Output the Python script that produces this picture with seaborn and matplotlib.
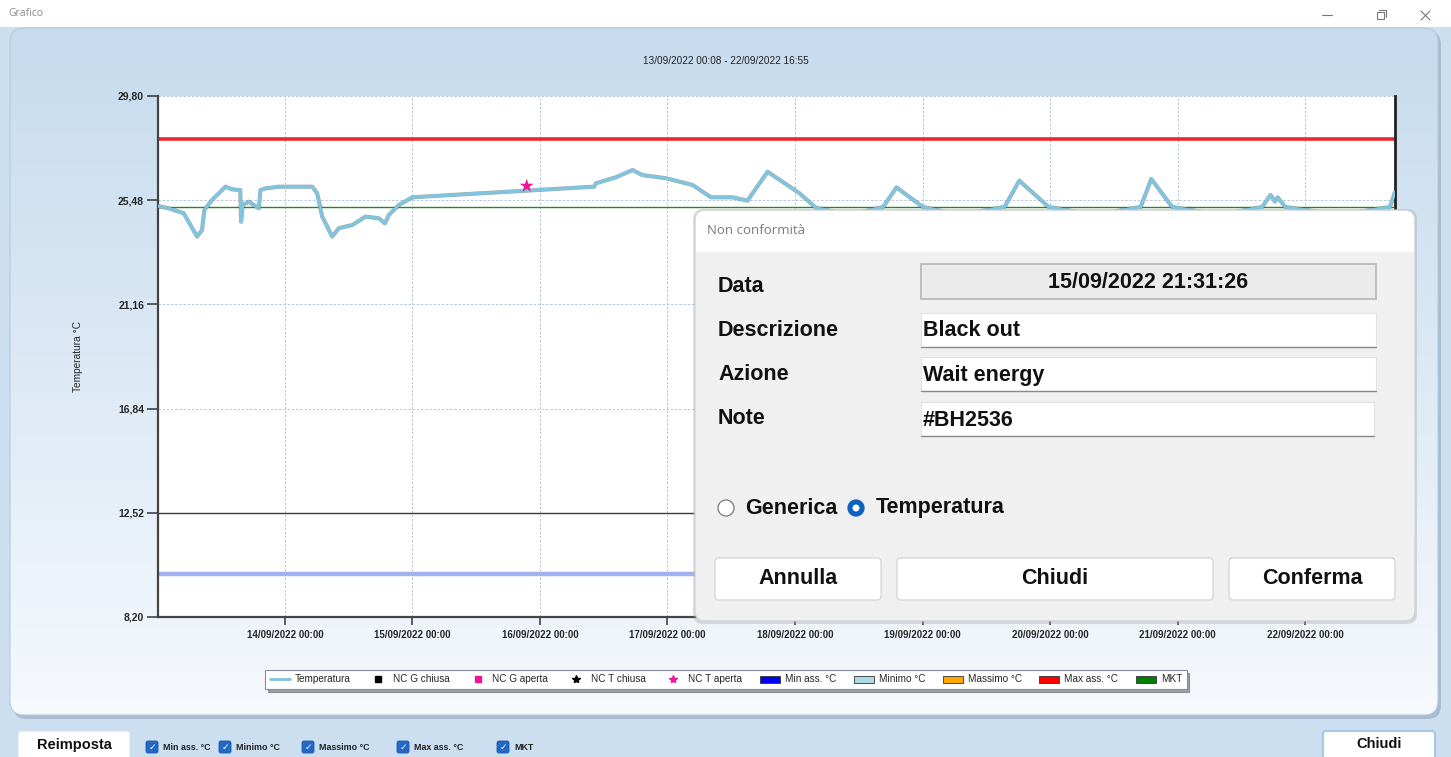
import pandas as pd
import matplotlib
matplotlib.use("Agg")
import matplotlib.pyplot as plt
from matplotlib.patches import Rectangle, FancyBboxPatch, Circle, Patch
from matplotlib.lines import Line2D
from matplotlib.colors import LinearSegmentedColormap
import numpy as np
import seaborn as sns

# -----------------------------
# Data
# -----------------------------
times = [
    "13/09/2022 00:08", "13/09/2022 02:09", "13/09/2022 04:58", "13/09/2022 07:29", "13/09/2022 08:25",
    "13/09/2022 08:52", "13/09/2022 10:18", "13/09/2022 12:50", "13/09/2022 14:04", "13/09/2022 15:37",
    "13/09/2022 15:46", "13/09/2022 16:05", "13/09/2022 17:13", "13/09/2022 19:06", "13/09/2022 19:25",
    "13/09/2022 20:22", "13/09/2022 22:52",
    "14/09/2022 05:09", "14/09/2022 06:05", "14/09/2022 07:02", "14/09/2022 08:55", "14/09/2022 10:10",
    "14/09/2022 12:41", "14/09/2022 15:12", "14/09/2022 17:42", "14/09/2022 18:50", "14/09/2022 19:35",
    "14/09/2022 21:28", "14/09/2022 23:59",
    "16/09/2022 10:13", "16/09/2022 10:32", "16/09/2022 14:18", "16/09/2022 17:26", "16/09/2022 19:18",
    "16/09/2022 23:43",
    "17/09/2022 04:44", "17/09/2022 08:12", "17/09/2022 12:16", "17/09/2022 15:05", "17/09/2022 16:02",
    "17/09/2022 18:51",
    "18/09/2022 00:50", "18/09/2022 03:58", "18/09/2022 10:15", "18/09/2022 16:36", "18/09/2022 19:06",
    "19/09/2022 00:04", "19/09/2022 06:58", "19/09/2022 15:27", "19/09/2022 18:13", "19/09/2022 23:44",
    "20/09/2022 08:24", "20/09/2022 17:04", "20/09/2022 19:03", "20/09/2022 22:59",
    "21/09/2022 07:57", "21/09/2022 15:55", "21/09/2022 17:30", "21/09/2022 18:19", "21/09/2022 18:50",
    "21/09/2022 20:16",
    "22/09/2022 06:34", "22/09/2022 15:58", "22/09/2022 16:55",
]
temps = [
    25.24, 25.14, 24.94, 23.97, 24.24, 25.07, 25.49, 26.04, 25.93, 25.90, 24.59, 25.28, 25.42, 25.14,
    25.90, 25.97, 26.04,
    26.04, 25.77, 24.80, 23.97, 24.32, 24.45, 24.80, 24.73, 24.52, 24.87, 25.28, 25.60,
    26.04, 26.18, 26.43, 26.73, 26.52, 26.39,
    26.11, 25.60, 25.60, 25.46, 25.77, 26.66,
    25.77, 25.16, 24.87, 25.20, 26.01,
    25.20, 24.87, 25.20, 26.29, 25.20,
    24.87, 25.20, 26.36, 25.20,
    24.87, 25.20, 25.70, 25.42, 25.60, 25.20,
    24.87, 25.20, 25.82,
]

# non conformity (NC T aperta)
nc_times = ["15/09/2022 21:31:26"]
nc_temps = [26.07]

# horizontal limit lines
limit_names = ["Max ass. °C", "MKT", "Riferimento", "Min ass. °C"]
limit_values = [28.00, 25.20, 12.52, 10.00]

y_ticks = [8.20, 12.52, 16.84, 21.16, 25.48, 29.80]
period = ["13/09/2022 00:08", "22/09/2022 16:55"]

legend_labels = ["Temperatura", "NC G chiusa", "NC G aperta", "NC T chiusa", "NC T aperta",
                 "Min ass. °C", "Minimo °C", "Massimo °C", "Max ass. °C", "MKT"]
check_labels = ["Min ass. °C", "Minimo °C", "Massimo °C", "Max ass. °C", "MKT"]

dialog_fields = ["Data", "Descrizione", "Azione", "Note"]
dialog_values = ["15/09/2022 21:31:26", "Black out", "Wait energy", "#BH2536"]

df = pd.DataFrame({"time": pd.to_datetime(times, format="%d/%m/%Y %H:%M"), "temp": temps})
nc = pd.DataFrame({"time": pd.to_datetime(nc_times, format="%d/%m/%Y %H:%M:%S"), "temp": nc_temps})
start, end = pd.to_datetime(period, format="%d/%m/%Y %H:%M")

# -----------------------------
# Style
# -----------------------------
sns.set_theme(style="white")
plt.rcParams["font.family"] = ["Liberation Sans", "DejaVu Sans"]

W, H = 1451, 757
fig = plt.figure(figsize=(W / 100, H / 100), dpi=100)

# background layer in pixel coordinates
bg = fig.add_axes([0, 0, 1, 1], zorder=0)
bg.set_xlim(0, W)
bg.set_ylim(H, 0)
bg.axis("off")

bg.add_patch(Rectangle((0, 0), W, H, fc="#cbdff0", ec="none"))
bg.add_patch(Rectangle((0, 0), W, 27, fc="white", ec="none"))
bg.text(8, 14, "Grafico", fontsize=7.5, color="#8a8a8a", va="center", family=["Open Sans", "DejaVu Sans"])
bg.plot([1322, 1332], [15, 15], color="#777", lw=0.8)
bg.add_patch(Rectangle((1377, 12), 7, 7, fc="none", ec="#777", lw=0.8))
bg.plot([1379, 1386, 1386], [10, 10, 17], color="#777", lw=0.8)
bg.plot([1421, 1430], [11, 20], color="#777", lw=0.8)
bg.plot([1421, 1430], [20, 11], color="#777", lw=0.8)

# rounded panel with gradient + shadow
bg.add_patch(FancyBboxPatch((13, 31), 1428, 688, boxstyle="round,pad=0,rounding_size=14",
                            fc="#8fa6bd", ec="none", alpha=0.6))
panel = FancyBboxPatch((10, 28), 1428, 687, boxstyle="round,pad=0,rounding_size=14",
                       fc="none", ec="#b7cadc", lw=0.8, zorder=3)
bg.add_patch(panel)
grad = np.linspace(0, 1, 256).reshape(-1, 1)
cmap = LinearSegmentedColormap.from_list("pan", ["#c6dbee", "#dde9f5", "#f6f9fd"])
im = bg.imshow(grad, extent=[10, 1438, 715, 28], aspect="auto", cmap=cmap, zorder=2)
im.set_clip_path(panel)
bg.set_xlim(0, W)
bg.set_ylim(H, 0)

# title
bg.text(W / 2, 61, f"{period[0]} - {period[1]}", fontsize=7.2, ha="center", va="center", color="#222")

# bottom bar
bg.add_patch(FancyBboxPatch((18, 731), 112, 30, boxstyle="round,pad=0,rounding_size=3",
                            fc="white", ec="#d8e2ec", lw=0.8))
bg.text(74, 745, "Reimposta", fontsize=10.5, fontweight="bold", ha="center", va="center", color="#111")
cx = [146, 219, 302, 397, 497]
for x, lab in zip(cx, check_labels):
    bg.add_patch(FancyBboxPatch((x, 741), 12, 12, boxstyle="round,pad=0,rounding_size=2",
                                fc="#2368c4", ec="#1b58aa", lw=0.6))
    bg.text(x + 6, 747.5, "✓", fontsize=6.5, color="white", ha="center", va="center", family="DejaVu Sans")
    bg.text(x + 17, 747.5, lab, fontsize=6.4, fontweight="bold", va="center", color="#222")
bg.add_patch(FancyBboxPatch((1323, 731), 112, 28, boxstyle="round,pad=0,rounding_size=3",
                            fc="white", ec="#8fb6dd", lw=1.0))
bg.text(1379, 744, "Chiudi", fontsize=10.5, fontweight="bold", ha="center", va="center", color="#111")

# -----------------------------
# Chart
# -----------------------------
ax = fig.add_axes([158 / W, 1 - 617 / H, 1237 / W, 521 / H], zorder=2)
ax.set_facecolor("white")

line_colors = {"Max ass. °C": "#e82a2f", "MKT": "#1f8a2a", "Riferimento": "#3a3a3a", "Min ass. °C": "#a2b2ee"}
line_widths = {"Max ass. °C": 2.6, "MKT": 1.0, "Riferimento": 1.0, "Min ass. °C": 3.2}
for name, val in zip(limit_names, limit_values):
    ax.axhline(val, color=line_colors[name], lw=line_widths[name], zorder=2)

sns.lineplot(data=df, x="time", y="temp", ax=ax, color="#3b4a55", lw=3.0, alpha=0.45, zorder=3)
sns.lineplot(data=df, x="time", y="temp", ax=ax, color="#80c5df", lw=2.3, zorder=4)
sns.scatterplot(data=nc, x="time", y="temp", ax=ax, marker="*", s=110, color="#f0149a",
                edgecolor="none", zorder=5)

ax.set_xlim(start, end)
ax.set_ylim(y_ticks[0], y_ticks[-1])
ax.set_yticks(y_ticks, labels=[f"{v:.2f}".replace(".", ",") for v in y_ticks],
              fontsize=7.5, fontweight="bold")
days = pd.date_range("2022-09-14", "2022-09-22", freq="D")
ax.set_xticks(days, labels=[d.strftime("%d/%m/%Y %H:%M") for d in days], fontsize=7, fontweight="bold")
ax.tick_params(axis="y", length=8, width=1.1, color="#333", pad=2, left=True)
ax.tick_params(axis="x", length=6, width=1.1, color="#333", pad=3, bottom=True)
ax.grid(True, color="#a9c0d8", lw=0.6, ls=(0, (3, 2)))
ax.set_xlabel("")
ax.set_ylabel("Temperatura °C", fontsize=7.3)
ax.yaxis.set_label_coords((83 - 158) / 1237, 0.5)
for s in ["left", "bottom"]:
    ax.spines[s].set_color("#444")
    ax.spines[s].set_linewidth(1.6)
ax.spines["right"].set_color("#222")
ax.spines["right"].set_linewidth(2)
ax.spines["top"].set_visible(False)

# legend
handles = [
    Line2D([], [], color="#7fc4de", lw=2),
    Line2D([], [], ls="none", marker="s", color="black", ms=5),
    Line2D([], [], ls="none", marker="s", color="#f0149a", ms=5),
    Line2D([], [], ls="none", marker="*", color="black", ms=6),
    Line2D([], [], ls="none", marker="*", color="#f0149a", ms=6),
    Patch(fc="#0000ff", ec="#333", lw=0.6),
    Patch(fc="#add8e6", ec="#333", lw=0.6),
    Patch(fc="#ffa500", ec="#333", lw=0.6),
    Patch(fc="#ff0000", ec="#333", lw=0.6),
    Patch(fc="#008000", ec="#333", lw=0.6),
]
leg = fig.legend(handles, legend_labels, loc="center", bbox_to_anchor=(726 / W, 1 - 679.5 / H),
                 ncol=10, fontsize=7.2, frameon=True, fancybox=False, shadow=True,
                 handlelength=2.0, handleheight=0.7, handletextpad=0.5, columnspacing=1.75,
                 borderpad=0.45)
leg.get_frame().set_edgecolor("#8a8a9a")
leg.get_frame().set_linewidth(0.8)

# -----------------------------
# Dialog "Non conformità" on top
# -----------------------------
dl = fig.add_axes([0, 0, 1, 1], zorder=10)
dl.set_xlim(0, W)
dl.set_ylim(H, 0)
dl.axis("off")
dl.patch.set_alpha(0)

dl.add_patch(FancyBboxPatch((693, 209), 724, 415, boxstyle="round,pad=0,rounding_size=10",
                            fc="#9aa4ae", ec="none", alpha=0.35))
dl.add_patch(FancyBboxPatch((695, 210), 720, 411, boxstyle="round,pad=0,rounding_size=10",
                            fc="#f0f0f0", ec="#cfcfcf", lw=0.8))
dl.add_patch(FancyBboxPatch((696, 211), 718, 41, boxstyle="round,pad=0,rounding_size=9",
                            fc="white", ec="none"))
dl.add_patch(Rectangle((696, 240), 718, 12, fc="white", ec="none"))
dl.text(707, 231, "Non conformità", fontsize=9.5, color="#7a7a7a", va="center",
        family=["Open Sans", "DejaVu Sans"])

rows_y = [287, 330, 374, 419]
boxes = [(921, 264, 455, 35), (921, 313, 455, 34), (921, 357, 455, 34), (921, 402, 453, 34)]
for i, (lab, val) in enumerate(zip(dialog_fields, dialog_values)):
    dl.text(718, rows_y[i], lab, fontsize=15.5, fontweight="bold", va="center", color="#111")
    x0, y0, w, h = boxes[i]
    if i == 0:
        dl.add_patch(Rectangle((x0, y0), w, h, fc="#ebebeb", ec="#b5b5b5", lw=1.2))
        dl.text(x0 + w / 2, y0 + h / 2 + 1, val, fontsize=15.5, fontweight="bold",
                ha="center", va="center", color="#111")
    else:
        dl.add_patch(Rectangle((x0, y0), w, h, fc="white", ec="#e2e2e2", lw=0.8))
        dl.plot([x0, x0 + w], [y0 + h, y0 + h], color="#8a8a8a", lw=1.0)
        dl.text(x0 + 2, y0 + h / 2 + 1, val, fontsize=15.5, fontweight="bold", va="center", color="#111")

# radio buttons
dl.add_patch(Circle((726, 508), 8, fc="white", ec="#7a7a7a", lw=0.9))
dl.text(745, 508, "Generica", fontsize=15.5, fontweight="bold", va="center", color="#111")
dl.add_patch(Circle((856, 508), 8, fc="#0a62c0", ec="#0a62c0", lw=0.9))
dl.add_patch(Circle((856, 508), 3.5, fc="white", ec="none"))
dl.text(876, 508, "Temperatura", fontsize=15.5, fontweight="bold", va="center", color="#111")

# buttons
for x0, x1, lab in [(715, 881, "Annulla"), (897, 1213, "Chiudi"), (1229, 1395, "Conferma")]:
    dl.add_patch(FancyBboxPatch((x0, 558), x1 - x0, 42, boxstyle="round,pad=0,rounding_size=4",
                                fc="white", ec="#d4d4d4", lw=0.9))
    dl.text((x0 + x1) / 2, 579, lab, fontsize=15.5, fontweight="bold", ha="center", va="center", color="#111")

plt.savefig("out.png", dpi=100)
